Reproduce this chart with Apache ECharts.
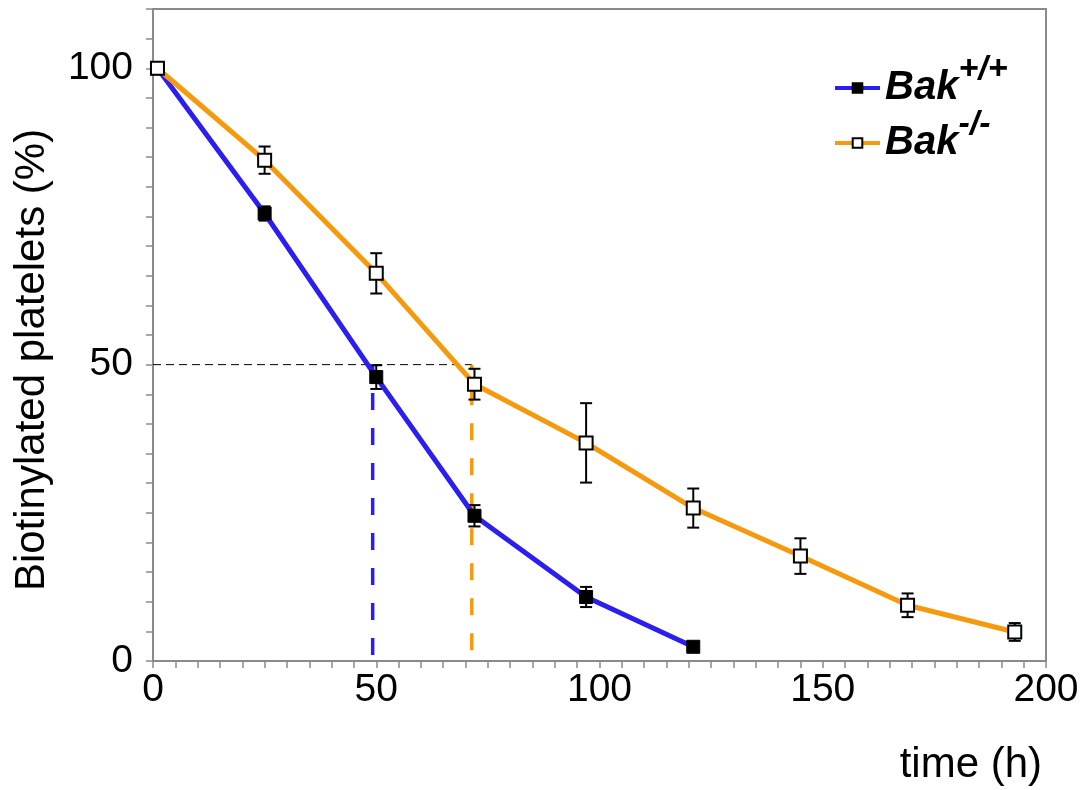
<!DOCTYPE html>
<html>
<head>
<meta charset="utf-8">
<script src="https://cdn.jsdelivr.net/npm/echarts@6/dist/echarts.min.js"></script>
<style>
html,body{margin:0;padding:0;background:#fff;}
#chart{width:1084px;height:790px;}
</style>
</head>
<body>
<div id="chart"></div>
<script>
// ---- data ----
const seriesNames = ['Bak+/+', 'Bak-/-'];
const timeWT = [1, 25, 50, 72, 97, 121];
const valWT  = [100, 75.5, 47.9, 24.5, 10.8, 2.4];
const errWT  = [0, 1.2, 2.0, 1.8, 1.7, 0];
const timeKO = [1, 25, 50, 72, 97, 121, 145, 169, 193];
const valKO  = [100, 84.5, 65.4, 46.7, 36.8, 25.8, 17.7, 9.4, 4.9];
const errKO  = [0, 2.3, 3.4, 2.6, 6.7, 3.3, 3.0, 2.0, 1.5];
const halfLevel = 50;
const halfWT = 49.2;
const halfKO = 71.4;
const xTickLabels = [0, 50, 100, 150, 200];
const yTickLabels = [0, 50, 100];

const FONT = '"Liberation Sans", Arial, Helvetica, sans-serif';
const BLUE = '#2a1ef0';
const ORANGE = '#f7990c';

function pts(xs, ys) { return xs.map((x, i) => [x, ys[i]]); }
function errs(xs, ys, es) {
  const out = [];
  xs.forEach((x, i) => { if (es[i] > 0) out.push([x, ys[i] - es[i], ys[i] + es[i]]); });
  return out;
}
function errRender(params, api) {
  const x = api.value(0);
  const lo = api.coord([x, api.value(1)]);
  const hi = api.coord([x, api.value(2)]);
  const w = 6;
  const st = { stroke: '#000', lineWidth: 2 };
  return {
    type: 'group',
    children: [
      { type: 'line', shape: { x1: lo[0], y1: lo[1], x2: hi[0], y2: hi[1] }, style: st },
      { type: 'line', shape: { x1: lo[0] - w, y1: lo[1], x2: lo[0] + w, y2: lo[1] }, style: st },
      { type: 'line', shape: { x1: hi[0] - w, y1: hi[1], x2: hi[0] + w, y2: hi[1] }, style: st }
    ]
  };
}

const chart = echarts.init(document.getElementById('chart'), null, { renderer: 'canvas' });
chart.setOption({
  animation: false,
  backgroundColor: '#fff',
  textStyle: { fontFamily: FONT },
  grid: { left: 153, right: 38, top: 9, bottom: 129, show: true, borderColor: '#8a8a8a', borderWidth: 2, backgroundColor: 'transparent' },
  legend: {
    data: seriesNames,
    orient: 'vertical',
    left: 828,
    top: 48,
    itemWidth: 45,
    itemHeight: 12,
    itemGap: 0,
    selectedMode: false,
    lineStyle: { width: 4 },
    formatter: name => '{b|Bak}{s|' + name.slice(3) + '}',
    textStyle: {
      rich: {
        b: { fontFamily: FONT, fontSize: 40, fontWeight: 'bold', fontStyle: 'italic', color: '#000', lineHeight: 70 },
        s: { fontFamily: FONT, fontSize: 34, fontWeight: 'bold', fontStyle: 'italic', color: '#000', verticalAlign: 'top', lineHeight: 34 }
      }
    }
  },
  xAxis: {
    type: 'value', min: 0, max: 200, interval: 5,
    name: 'time (h)', nameLocation: 'end', nameGap: -4,
    nameTextStyle: { fontFamily: FONT, fontSize: 42, color: '#000', align: 'right', verticalAlign: 'top', padding: [83, 0, 0, 0] },
    axisLine: { lineStyle: { color: '#8a8a8a', width: 2 } },
    axisTick: { show: true, length: 7, lineStyle: { color: '#8a8a8a', width: 1.5 } },
    axisLabel: { fontFamily: FONT, fontSize: 39, color: '#000', margin: 10,
      formatter: v => xTickLabels.indexOf(v) >= 0 ? String(v) : '' },
    splitLine: { show: false }
  },
  yAxis: {
    type: 'value', min: 0, max: 110, interval: 5,
    name: 'Biotinylated platelets (%)', nameLocation: 'middle', nameGap: 100,
    nameTextStyle: { fontFamily: FONT, fontSize: 42, color: '#000', padding: [0, 50, 0, 0] },
    axisLine: { show: true, lineStyle: { color: '#8a8a8a', width: 2 } },
    axisTick: { show: true, length: 7, lineStyle: { color: '#8a8a8a', width: 1.5 } },
    axisLabel: { fontFamily: FONT, fontSize: 39, color: '#000', margin: 20,
      formatter: v => yTickLabels.indexOf(v) >= 0 ? String(v) : '' },
    splitLine: { show: false }
  },
  series: [
    { type: 'line', name: 'half-line', silent: true, z: 1, symbol: 'none',
      data: [[0, halfLevel], [halfKO, halfLevel]],
      lineStyle: { color: '#000', width: 1, type: [8, 5] } },
    { type: 'line', name: 'halfWT', silent: true, z: 1, symbol: 'none',
      data: [[halfWT, 1], [halfWT, halfLevel]],
      lineStyle: { color: BLUE, width: 3.5, type: [17, 18] } },
    { type: 'line', name: 'halfKO', silent: true, z: 1, symbol: 'none',
      data: [[halfKO, 1.8], [halfKO, halfLevel]],
      lineStyle: { color: ORANGE, width: 3.5, type: [17, 18] } },
    { type: 'custom', name: 'errKO', z: 2, silent: true, renderItem: errRender,
      data: errs(timeKO, valKO, errKO), encode: { x: 0, y: [1, 2] } },
    { type: 'custom', name: 'errWT', z: 2, silent: true, renderItem: errRender,
      data: errs(timeWT, valWT, errWT), encode: { x: 0, y: [1, 2] } },
    { type: 'line', name: seriesNames[0], z: 3, data: pts(timeWT, valWT),
      symbol: 'rect', symbolSize: 13, showAllSymbol: true,
      lineStyle: { color: BLUE, width: 5 },
      itemStyle: { color: '#000', borderColor: '#000', borderWidth: 1 } },
    { type: 'line', name: seriesNames[1], z: 4, data: pts(timeKO, valKO),
      symbol: 'rect', symbolSize: 13, showAllSymbol: true,
      lineStyle: { color: ORANGE, width: 5 },
      itemStyle: { color: '#fff', borderColor: '#000', borderWidth: 2 } }
  ]
});
</script>
</body>
</html>
